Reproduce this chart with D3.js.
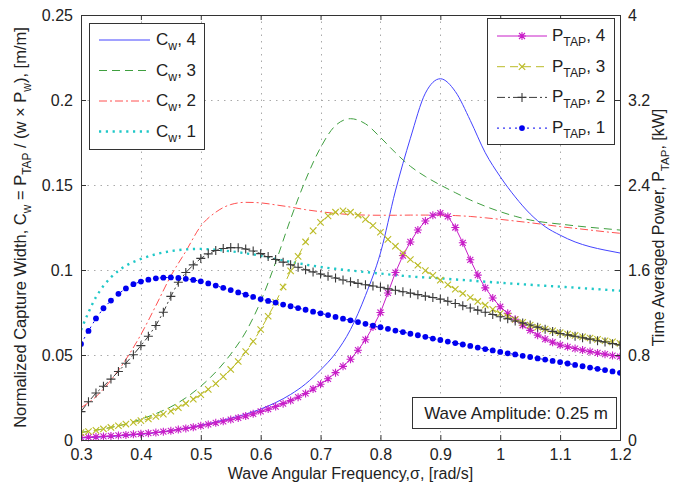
<!DOCTYPE html>
<html>
<head>
<meta charset="utf-8">
<script src="https://cdn.jsdelivr.net/npm/d3@7"></script>
<style>
body { margin: 0; background: #fff; }
text { font-family: "Liberation Sans", Arial, sans-serif; fill: #222; }
</style>
</head>
<body>
<div class="container"></div>
<script>
// frequency grids (rad/s)
var sigmaFine = d3.range(73).map(function(i) { return +(0.3 + i * 0.0125).toFixed(4); });
var sigmaCoarse = d3.range(37).map(function(i) { return +(0.3 + i * 0.025).toFixed(3); });

// normalized capture width [m/m]
var cw4 = [0.0012,0.0016,0.0021,0.0027,0.0034,0.0043,0.0055,0.0069,0.0086,0.0106,0.0128,0.0152,0.0182,0.0220,0.0268,0.0330,0.0412,0.0510,0.0650,0.0850,0.1100,0.1465,0.1775,0.2040,0.2125,0.2050,0.1880,0.1690,0.1549,0.1430,0.1330,0.1255,0.1205,0.1165,0.1137,0.1117,0.1100];
var cw3 = [0.0045,0.0058,0.0074,0.0094,0.0122,0.0155,0.0195,0.0248,0.0316,0.0400,0.0505,0.0635,0.0815,0.1045,0.1300,0.1530,0.1720,0.1850,0.1890,0.1860,0.1780,0.1690,0.1610,0.1550,0.1500,0.1455,0.1412,0.1375,0.1343,0.1316,0.1294,0.1280,0.1270,0.1260,0.1251,0.1243,0.1235];
var cw2 = [0.0190,0.0255,0.0352,0.0474,0.0620,0.0790,0.0965,0.1110,0.1258,0.1340,0.1385,0.1398,0.1395,0.1383,0.1370,0.1355,0.1343,0.1333,0.1326,0.1323,0.1322,0.1322,0.1323,0.1323,0.1323,0.1320,0.1315,0.1307,0.1298,0.1288,0.1278,0.1267,0.1255,0.1245,0.1235,0.1225,0.1216];
var cw1 = [0.0647,0.0840,0.0957,0.1025,0.1065,0.1093,0.1111,0.1121,0.1124,0.1119,0.1110,0.1098,0.1084,0.1065,0.1048,0.1032,0.1018,0.1007,0.0997,0.0988,0.0979,0.0970,0.0962,0.0956,0.0951,0.0944,0.0938,0.0931,0.0925,0.0919,0.0913,0.0907,0.0902,0.0896,0.0890,0.0884,0.0878];

// time averaged power [kW]
var p4 = [0.024,0.027,0.030,0.034,0.038,0.043,0.048,0.053,0.058,0.064,0.070,0.078,0.086,0.098,0.109,0.120,0.133,0.147,0.162,0.176,0.192,0.208,0.226,0.246,0.269,0.291,0.315,0.342,0.371,0.403,0.438,0.480,0.525,0.576,0.634,0.693,0.760,0.845,0.944,1.064,1.200,1.384,1.576,1.736,1.864,1.976,2.061,2.115,2.136,2.104,2.000,1.856,1.696,1.552,1.432,1.336,1.254,1.192,1.136,1.080,1.032,0.987,0.950,0.920,0.894,0.877,0.861,0.846,0.832,0.819,0.808,0.795,0.784];
var p3 = [0.069,0.080,0.091,0.104,0.118,0.134,0.150,0.166,0.182,0.198,0.221,0.243,0.272,0.304,0.344,0.384,0.427,0.477,0.531,0.597,0.664,0.739,0.832,0.928,1.040,1.165,1.296,1.440,1.592,1.728,1.864,1.968,2.048,2.109,2.144,2.157,2.144,2.115,2.077,2.019,1.955,1.888,1.824,1.760,1.699,1.645,1.594,1.549,1.504,1.461,1.419,1.379,1.341,1.304,1.269,1.229,1.192,1.163,1.134,1.107,1.082,1.062,1.045,1.027,1.010,0.997,0.984,0.971,0.960,0.947,0.934,0.923,0.910];
var p2 = [0.267,0.360,0.442,0.506,0.573,0.645,0.723,0.803,0.888,0.976,1.078,1.203,1.352,1.485,1.576,1.648,1.709,1.752,1.784,1.803,1.811,1.810,1.797,1.779,1.754,1.726,1.699,1.674,1.650,1.626,1.603,1.582,1.562,1.542,1.525,1.506,1.490,1.474,1.461,1.450,1.437,1.422,1.410,1.395,1.382,1.368,1.354,1.341,1.326,1.306,1.285,1.264,1.243,1.222,1.202,1.181,1.160,1.141,1.120,1.101,1.082,1.062,1.042,1.022,1.003,0.989,0.976,0.962,0.949,0.934,0.922,0.907,0.894];
var p1 = [0.904,1.027,1.144,1.240,1.312,1.376,1.427,1.467,1.491,1.509,1.522,1.528,1.530,1.525,1.517,1.507,1.493,1.474,1.453,1.432,1.411,1.389,1.368,1.347,1.326,1.309,1.293,1.275,1.259,1.242,1.226,1.208,1.192,1.176,1.158,1.142,1.126,1.110,1.093,1.077,1.061,1.046,1.030,1.016,1.000,0.986,0.971,0.955,0.941,0.926,0.912,0.899,0.885,0.870,0.856,0.843,0.829,0.816,0.805,0.792,0.781,0.768,0.757,0.744,0.733,0.720,0.707,0.694,0.682,0.670,0.658,0.645,0.632];

// ticks
var xTicks = [0.3,0.4,0.5,0.6,0.7,0.8,0.9,1.0,1.1,1.2];
var xTickLabels = ['0.3','0.4','0.5','0.6','0.7','0.8','0.9','1','1.1','1.2'];
var yLeftTicks = [0,0.05,0.1,0.15,0.2,0.25];
var yLeftTickLabels = ['0','0.05','0.1','0.15','0.2','0.25'];
var yRightTicks = [0,0.8,1.6,2.4,3.2,4];
var yRightTickLabels = ['0','0.8','1.6','2.4','3.2','4'];

var width = 686;
var height = 490;
var plotLeft = 81, plotRight = 620, plotTop = 15, plotBottom = 440;

var translate = function(x, y) {
    return 'translate(' + x + ',' + y + ')';
};

// text with subscripts: parts = [[str, isSub], ...]
var richText = function(sel, parts, size) {
    var down = false;
    parts.forEach(function(p) {
        var t = sel.append('tspan').text(p[0]);
        if (p[1]) {
            t.attr('font-size', size * 0.72).attr('dy', down ? 0 : size * 0.3);
            down = true;
        } else {
            if (down) t.attr('dy', -size * 0.3);
            down = false;
        }
    });
};

var markerPath = {
    star: 'M-4,0H4M0,-4V4M-3,-3L3,3M-3,3L3,-3',
    cross: 'M-3.2,-3.2L3.2,3.2M-3.2,3.2L3.2,-3.2',
    plus: 'M-4.5,0H4.5M0,-4.5V4.5'
};

var draw = function() {
    var svg = d3.select('.container').append('svg')
        .attr('width', width)
        .attr('height', height);

    var xScale = d3.scaleLinear().domain([0.3, 1.2]).range([plotLeft, plotRight]);
    var yLeft = d3.scaleLinear().domain([0, 0.25]).range([plotBottom, plotTop]);
    var yRight = d3.scaleLinear().domain([0, 4]).range([plotBottom, plotTop]);

    // grid
    var grid = svg.append('g').attr('stroke', '#aaa').attr('stroke-width', 1).attr('stroke-dasharray', '1.5,5');
    grid.selectAll('.gx').data(xTicks.slice(1, -1)).enter().append('line')
        .attr('x1', function(d) { return Math.round(xScale(d)) + 0.5; })
        .attr('x2', function(d) { return Math.round(xScale(d)) + 0.5; })
        .attr('y1', plotTop).attr('y2', plotBottom);
    grid.selectAll('.gy').data(yLeftTicks.slice(1, -1)).enter().append('line')
        .attr('y1', function(d) { return Math.round(yLeft(d)) + 0.5; })
        .attr('y2', function(d) { return Math.round(yLeft(d)) + 0.5; })
        .attr('x1', plotLeft).attr('x2', plotRight);

    svg.append('clipPath').attr('id', 'plotClip').append('rect')
        .attr('x', plotLeft).attr('y', plotTop - 2).attr('width', plotRight - plotLeft).attr('height', plotBottom - plotTop + 4);

    var plot = svg.append('g').attr('clip-path', 'url(#plotClip)');

    var cwSeries = [
        { values: cw4, color: '#4444ff', dash: null, w: 1 },
        { values: cw3, color: '#3f9f3f', dash: '8,5', w: 1 },
        { values: cw2, color: '#ff5050', dash: '8,3,2,3', w: 1 },
        { values: cw1, color: '#20c8c8', dash: '2.2,4.6', w: 2.4 }
    ];

    var cwLine = d3.line()
        .curve(d3.curveMonotoneX)
        .x(function(d, i) { return xScale(sigmaCoarse[i]); })
        .y(function(d) { return yLeft(d); });

    cwSeries.forEach(function(s) {
        plot.append('path')
            .datum(s.values)
            .attr('d', cwLine)
            .attr('fill', 'none')
            .attr('stroke', s.color)
            .attr('stroke-width', s.w)
            .attr('stroke-dasharray', s.dash);
    });

    var pSeries = [
        { values: p4, color: '#c81ec8', dash: null, marker: 'star' },
        { values: p3, color: '#bcbc28', dash: '8,5', marker: 'cross' },
        { values: p2, color: '#3a3a3a', dash: '8,3,2,3', marker: 'plus' },
        { values: p1, color: '#0000f0', dash: '2,4', marker: 'dot' }
    ];

    var pLine = d3.line()
        .x(function(d, i) { return xScale(sigmaFine[i]); })
        .y(function(d) { return yRight(d); });

    pSeries.forEach(function(s) {
        var g = plot.append('g');
        g.append('path')
            .datum(s.values)
            .attr('d', pLine)
            .attr('fill', 'none')
            .attr('stroke', s.color)
            .attr('stroke-width', 1)
            .attr('stroke-dasharray', s.dash);
        if (s.marker === 'dot') {
            g.selectAll('circle').data(s.values).enter().append('circle')
                .attr('cx', function(d, i) { return xScale(sigmaFine[i]); })
                .attr('cy', function(d) { return yRight(d); })
                .attr('r', 2.9)
                .attr('fill', s.color);
        } else {
            g.selectAll('.mk').data(s.values).enter().append('path')
                .attr('transform', function(d, i) { return translate(xScale(sigmaFine[i]), yRight(d)); })
                .attr('d', markerPath[s.marker])
                .attr('fill', 'none')
                .attr('stroke', s.color)
                .attr('stroke-width', 1.1);
        }
    });

    // axes (ticks pointing inward)
    var axisColor = '#333';
    var styleAxis = function(g) {
        g.select('.domain').remove();
        g.selectAll('.tick line').attr('stroke', axisColor);
        g.selectAll('.tick text').attr('font-size', 16).attr('fill', '#222')
            .attr('font-family', '"Liberation Sans", Arial, sans-serif');
    };

    svg.append('g').attr('transform', translate(0, plotBottom))
        .call(d3.axisBottom(xScale).tickValues(xTicks).tickSize(-5).tickPadding(9)
            .tickFormat(function(d, i) { return xTickLabels[i]; }))
        .call(styleAxis);
    svg.append('g').attr('transform', translate(0, plotTop))
        .call(d3.axisTop(xScale).tickValues(xTicks).tickSize(-5).tickFormat(''))
        .call(styleAxis);
    svg.append('g').attr('transform', translate(plotLeft, 0))
        .call(d3.axisLeft(yLeft).tickValues(yLeftTicks).tickSize(-5).tickPadding(8)
            .tickFormat(function(d, i) { return yLeftTickLabels[i]; }))
        .call(styleAxis);
    svg.append('g').attr('transform', translate(plotRight, 0))
        .call(d3.axisRight(yRight).tickValues(yRightTicks).tickSize(-5).tickPadding(8)
            .tickFormat(function(d, i) { return yRightTickLabels[i]; }))
        .call(styleAxis);

    svg.append('rect')
        .attr('x', plotLeft + 0.5).attr('y', plotTop + 0.5)
        .attr('width', plotRight - plotLeft).attr('height', plotBottom - plotTop)
        .attr('fill', 'none').attr('stroke', axisColor).attr('stroke-width', 1);

    // axis titles
    svg.append('text')
        .attr('x', (plotLeft + plotRight) / 2).attr('y', 479)
        .attr('text-anchor', 'middle').attr('font-size', 16)
        .text('Wave Angular Frequency,\u03c3, [rad/s]');

    var yl = svg.append('text')
        .attr('transform', translate(26, (plotTop + plotBottom) / 2) + ' rotate(-90)')
        .attr('text-anchor', 'middle').attr('font-size', 16.5);
    richText(yl, [['Normalized Capture Width, C'], ['w', 1], [' = P'], ['TAP', 1], [' / (w \u00d7 P'], ['w', 1], ['), [m/m]']], 16.5);

    var yr = svg.append('text')
        .attr('transform', translate(664, (plotTop + plotBottom) / 2) + ' rotate(-90)')
        .attr('text-anchor', 'middle').attr('font-size', 16);
    richText(yr, [['Time Averaged Power, P'], ['TAP', 1], [', [kW]']], 16);

    // left legend
    var legL = svg.append('g');
    legL.append('rect').attr('x', 89.5).attr('y', 23.5).attr('width', 115).attr('height', 126)
        .attr('fill', '#fff').attr('stroke', '#333');
    cwSeries.forEach(function(s, i) {
        var y = 40 + i * 30.5;
        legL.append('line').attr('x1', 99).attr('x2', 150).attr('y1', y).attr('y2', y)
            .attr('stroke', s.color).attr('stroke-width', s.w).attr('stroke-dasharray', s.dash);
        var t = legL.append('text').attr('x', 156).attr('y', y + 5).attr('font-size', 17);
        richText(t, [['C'], ['w', 1], [', ' + (4 - i)]], 17);
    });

    // right legend
    var legR = svg.append('g');
    legR.append('rect').attr('x', 487.5).attr('y', 18.5).attr('width', 127).attr('height', 126)
        .attr('fill', '#fff').attr('stroke', '#333');
    pSeries.forEach(function(s, i) {
        var y = 36 + i * 30.7;
        legR.append('line').attr('x1', 497).attr('x2', 547).attr('y1', y).attr('y2', y)
            .attr('stroke', s.color).attr('stroke-width', 1).attr('stroke-dasharray', s.dash);
        if (s.marker === 'dot') {
            legR.append('circle').attr('cx', 522).attr('cy', y).attr('r', 2.9).attr('fill', s.color);
        } else {
            legR.append('path').attr('transform', translate(522, y)).attr('d', markerPath[s.marker])
                .attr('fill', 'none').attr('stroke', s.color).attr('stroke-width', 1.1);
        }
        var t = legR.append('text').attr('x', 552).attr('y', y + 5).attr('font-size', 17);
        richText(t, [['P'], ['TAP', 1], [', ' + (4 - i)]], 17);
    });

    // annotation
    svg.append('rect').attr('x', 412.5).attr('y', 397.5).attr('width', 204).attr('height', 31)
        .attr('fill', '#fff').attr('stroke', '#333');
    svg.append('text').attr('x', 516).attr('y', 419).attr('text-anchor', 'middle')
        .attr('font-size', 17).text('Wave Amplitude: 0.25 m');
};

window.onload = draw;
</script>
</body>
</html>
